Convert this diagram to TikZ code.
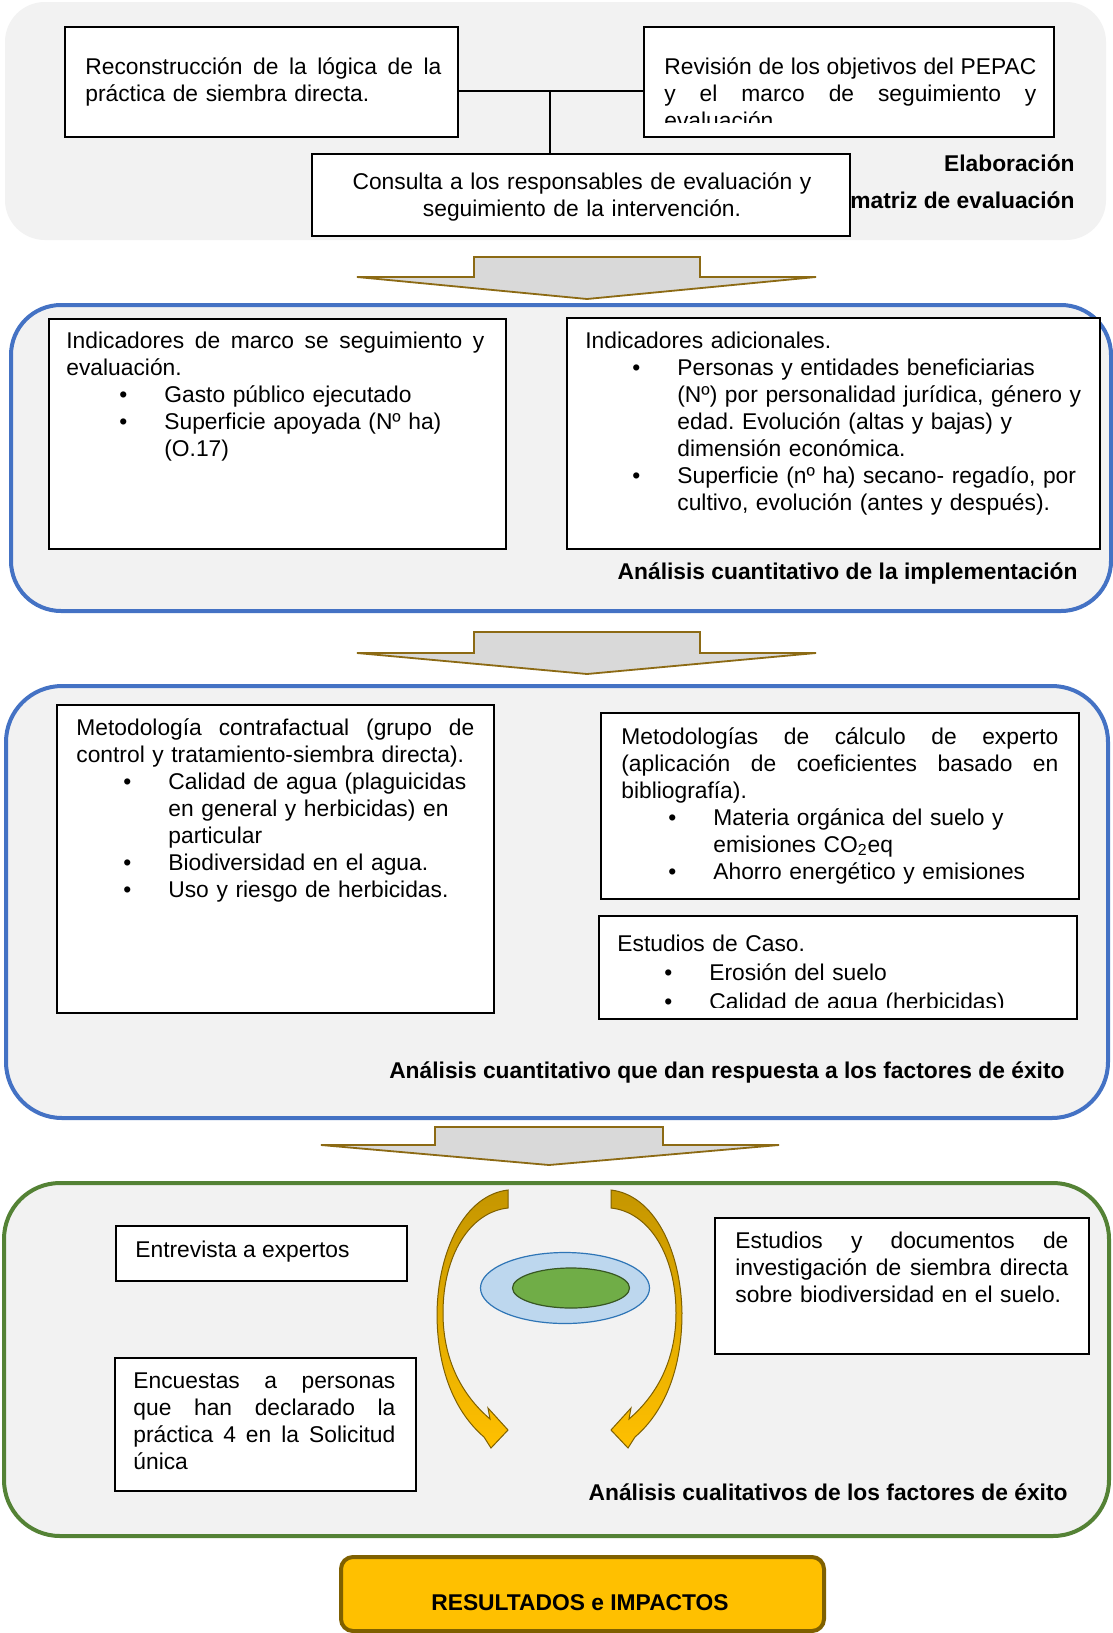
\documentclass[tikz,border=0pt]{standalone}
\usepackage{fontspec}
\setmainfont{Liberation Sans}
\usetikzlibrary{fit,shapes.geometric}
\definecolor{bg}{HTML}{F2F2F2}
\definecolor{blueb}{HTML}{4472C4}
\definecolor{greenb}{HTML}{548235}
\definecolor{arrfill}{HTML}{D9D9D9}
\definecolor{arrdraw}{HTML}{8C6A14}
\definecolor{gold}{HTML}{FFC000}
\definecolor{golddark}{HTML}{C59600}
\definecolor{goldline}{HTML}{7F6000}
\definecolor{ellblue}{HTML}{BDD7EE}
\definecolor{ellbluedraw}{HTML}{2E75B6}
\definecolor{ellgreen}{HTML}{70AD47}
\definecolor{ellgreendraw}{HTML}{385723}
\newcommand\jline[2]{\makebox[#1][s]{\spaceskip=0.278em plus 1fil\xspaceskip=0.278em plus 1fil\relax #2}}
\def\bulo{23.5pt}\def\bult{46pt}
\newcommand\blitem[1]{\hspace*{\bulo}\makebox[\dimexpr\bult-\bulo\relax][l]{\textbullet}#1}
\newcommand\blcont[1]{\hspace*{\bult}#1}
\begin{document}
\begin{tikzpicture}[x=0.5pt,y=-0.5pt, font=\fontsize{11.4}{13.5}\selectfont\frenchspacing,
 region/.style={fill=bg, inner sep=0},
 box/.style={draw=black, fill=white, line width=0.9pt, inner sep=0},
 txt/.style={inner sep=0, anchor=base west, align=left},
 lbl/.style={inner sep=0, anchor=base east, font=\fontsize{11.4}{13.5}\selectfont\bfseries},
 bigarrow/.style={fill=arrfill, draw=arrdraw, line width=0.9pt, line join=miter},
 curvarrow/.style={top color=golddark, bottom color=gold, draw=goldline, line width=0.5pt}]
\useasboundingbox (0,0) rectangle (1113,1633);
\clip (0,0) rectangle (1113,1633);
\fill[white] (0,0) rectangle (1113,1633);

% ---------- region 1
\node[region, rounded corners=20pt, fit={(5,2) (1106,240)}] (r1) {};
\node[box, fit={(65,27) (458,137)}] (b1) {};
\node[box, fit={(644,27) (1054,137)}] (b2) {};
\node[box, fit={(312,154) (850,236)}] (b3) {};
\coordinate (j) at (550,91);
\draw[line width=0.9pt] (b1.east |- j) -- (b2.west |- j);
\draw[line width=0.9pt] (j) -- (b3.north -| j);
\node[txt, text width=178pt] (t1) at (85,74) {\jline{178pt}{Reconstrucción de la lógica de la}\\práctica de siembra directa.};
\begin{scope}
\clip (644,27) rectangle (1054,122);
\node[txt, text width=186pt] (t2) at (664,74) {\jline{186pt}{Revisión de los objetivos del PEPAC}\\\jline{186pt}{y el marco de seguimiento y}\\evaluación};
\end{scope}
\node[txt, anchor=base, text width=269pt, align=center] (t3) at (582,189) {Consulta a los responsables de evaluación y\\seguimiento de la intervención.};
\node[lbl] (l1a) at (1075,171) {Elaboración};
\node[lbl] (l1b) at (1075,208) {matriz de evaluación};

% ---------- arrow 1
\draw[bigarrow] (474,257) -- (700,257) -- (700,277) -- (816,277) -- (587,299) -- (357,277) -- (474,277) -- cycle;

% ---------- region 2
\node[region, draw=blueb, line width=2pt, rounded corners=25pt, fit={(11,305) (1111,611)}] (r2) {};
\node[box, fit={(49,319) (506,549)}] (b4) {};
\node[box, fit={(567,318) (1100,549)}] (b5) {};
\node[txt, text width=209pt] (t4) at (66,348) {\def\bulo{26.5pt}\def\bult{49pt}%
\jline{209pt}{Indicadores de marco se seguimiento y}\\evaluación.\\
\blitem{Gasto público ejecutado}\\
\blitem{Superficie apoyada (Nº ha)}\\
\blcont{(O.17)}};
\node[txt, text width=255pt] (t5) at (585,348) {Indicadores adicionales.\\
\blitem{Personas y entidades beneficiarias}\\
\blcont{(Nº) por personalidad jurídica, género y}\\
\blcont{edad. Evolución (altas y bajas) y}\\
\blcont{dimensión económica.}\\
\blitem{Superficie (nº ha) secano- regadío, por}\\
\blcont{cultivo, evolución (antes y después).}};
\node[lbl] (l2) at (1078,579) {Análisis cuantitativo de la implementación};

% ---------- arrow 2
\draw[bigarrow] (474,632) -- (700,632) -- (700,653) -- (816,653) -- (587,674) -- (357,653) -- (474,653) -- cycle;

% ---------- region 3
\node[region, draw=blueb, line width=2pt, rounded corners=28pt, fit={(6,686) (1108,1118)}] (r3) {};
\node[box, fit={(57,705) (494,1013)}] (b6) {};
\node[box, fit={(601,713) (1079,899)}] (b7) {};
\node[box, fit={(599,916) (1077,1019)}] (b8) {};
\node[txt, text width=199pt] (t6) at (76,735) {\jline{199pt}{Metodología contrafactual (grupo de}\\control y tratamiento-siembra directa).\\
\blitem{Calidad de agua (plaguicidas}\\
\blcont{en general y herbicidas) en}\\
\blcont{particular}\\
\blitem{Biodiversidad en el agua.}\\
\blitem{Uso y riesgo de herbicidas.}};
\node[txt, text width=218.5pt] (t7) at (621,744) {\jline{218.5pt}{Metodologías de cálculo de experto}\\\jline{218.5pt}{(aplicación de coeficientes basado en}\\bibliografía).\\
\blitem{Materia orgánica del suelo y}\\
\blcont{emisiones CO\textsubscript{2}eq}\\
\blitem{Ahorro energético y emisiones}};
\begin{scope}
\clip (599,916) rectangle (1077,1007);
\node[txt, text width=220pt] (t8) at (617,951) {Estudios de Caso.\\[1pt]
\blitem{Erosión del suelo}\\[1pt]
\blitem{Calidad de agua (herbicidas)}};
\end{scope}
\node[lbl] (l3) at (1065,1078) {Análisis cuantitativo que dan respuesta a los factores de éxito};

% ---------- arrow 3
\draw[bigarrow] (435,1127) -- (663,1127) -- (663,1145) -- (779,1145) -- (549,1165) -- (321,1145) -- (435,1145) -- cycle;

% ---------- region 4
\node[region, draw=greenb, line width=2pt, rounded corners=28pt, fit={(4,1183) (1109,1536)}] (r4) {};
\node[box, fit={(116,1226) (407,1281)}] (b9) {};
\node[box, fit={(115,1358) (416,1491)}] (b10) {};
\node[box, fit={(715,1218) (1089,1354)}] (b11) {};
\node[txt] (t9) at (135,1257) {Entrevista a expertos};
\node[txt, text width=131pt] (t10) at (133,1388) {\jline{131pt}{Encuestas a personas}\\\jline{131pt}{que han declarado la}\\\jline{131pt}{práctica 4 en la Solicitud}\\única};
\node[txt, text width=166.5pt] (t11) at (735,1248) {\jline{166.5pt}{Estudios y documentos de}\\\jline{166.5pt}{investigación de siembra directa}\\sobre biodiversidad en el suelo.};
\node[lbl] (l4) at (1068,1500) {Análisis cualitativos de los factores de éxito};

% ellipses
\node[ellipse, draw=ellbluedraw, fill=ellblue, line width=0.6pt, minimum width=84.5pt, minimum height=35.5pt, inner sep=0] (eo) at (565,1288) {};
\node[ellipse, draw=ellgreendraw, fill=ellgreen, line width=0.6pt, minimum width=58.5pt, minimum height=20pt, inner sep=0] (ei) at (571,1288) {};

% curved arrows
\def\curvpath{(508,1190) .. controls (465,1195) and (438,1250) .. (437,1313) .. controls (437,1370) and (455,1412) .. (484,1437) -- (491,1448) -- (508,1430) -- (488,1408) -- (490,1419) .. controls (462,1395) and (443,1360) .. (443,1313) .. controls (443,1255) and (470,1212) .. (508,1208) -- cycle}
\shade[curvarrow] \curvpath;
\begin{scope}[shift={(1119,0)}, xscale=-1]
\shade[curvarrow] \curvpath;
\end{scope}

% ---------- results
\node[fill=gold, draw=goldline, line width=2pt, rounded corners=6pt, inner sep=0, fit={(341,1557) (824,1631)}] (res) {};
\node[inner sep=0, anchor=base, font=\fontsize{11.4}{13.5}\selectfont\bfseries] (rest) at (580,1610) {RESULTADOS e IMPACTOS};
\end{tikzpicture}
\end{document}
